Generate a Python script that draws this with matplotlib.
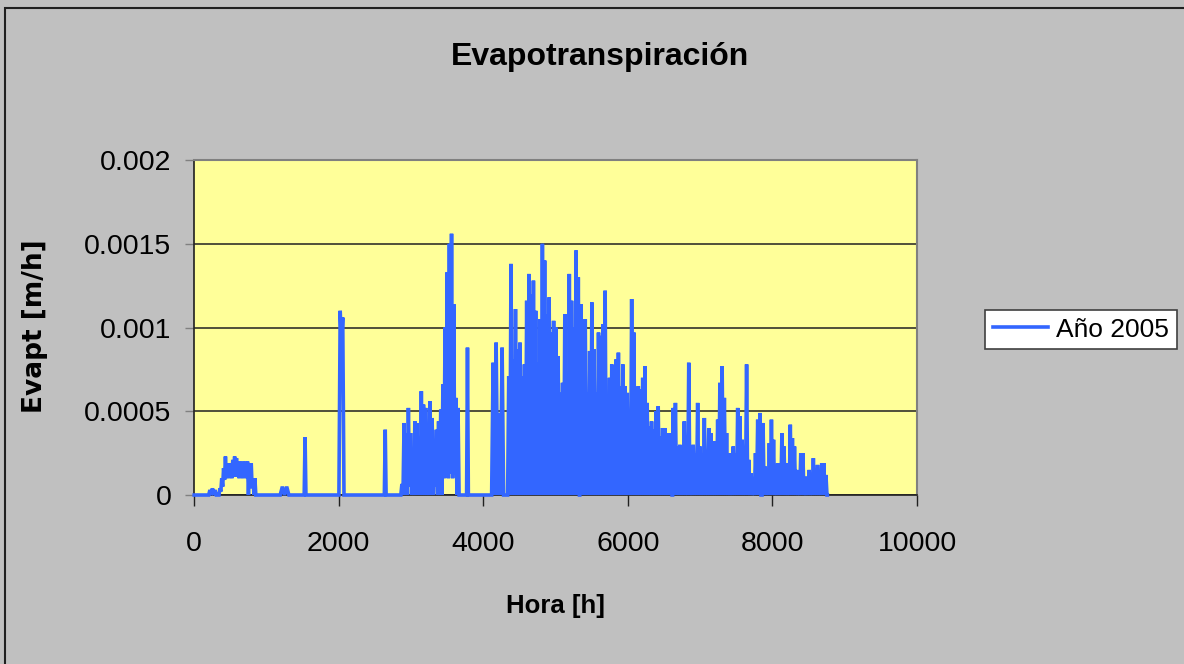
# coding: utf-8

"""
Evapotranspiración horaria - año 2005
"""

import numpy as np
import matplotlib
matplotlib.use("Agg")
import matplotlib.pyplot as plt
from matplotlib.patches import Rectangle

FUENTE = ["Liberation Sans", "DejaVu Sans"]

#==========
# Datos (máximos diarios, valles entre días)

# enero, pequeño bulto
ini_horas = (218, 288)
ini_picos = [0.00003, 0.00004, 0.00003]

# enero, bulto principal
ene_horas = (356, 840)
ene_picos = [0.00004, 0.0001, 0.00016, 0.00023, 0.00015, 0.00019, 0.00015, 0.00021, 0.00023, 0.00022,
             0.00016, 0.0002, 0.00016, 0.0002, 0.00019, 0.0002, 0.00018, 0.00019, 0.0001, 0.0001]
ene_valles = [0.00002, 0.00005, 0.00009, 0.00011, 0.0001, 0.00011, 0.0001, 0.00011, 0.00012, 0.00011,
              0.0001, 0.00011, 0.0001, 0.00011, 0.0001, 0.0, 0.00006, 0.00004, 0.0]

feb_horas = (1220, 1280)
feb_picos = [0.00005, 0.00005]

# picos aislados (hora, valor)
aislados_h = [1534, 2643, 3781]
aislados_v = [0.000346, 0.00039, 0.00088]

mar_horas = (2020, 2055)
mar_picos = [0.0011, 0.00106]
mar_valles = [0.0009]

# primavera
abr_horas = (2874, 3650)
abr_picos = [0.000066, 0.00043, 0.00037, 0.00052, 0.00037, 0.00025, 0.00044, 0.00043, 0.00029, 0.00062,
             0.00054, 0.00052, 0.0003, 0.00056, 0.00046, 0.0003, 0.00039, 0.00044, 0.00051, 0.00066,
             0.001, 0.00133, 0.0015, 0.00156, 0.00114, 0.00058, 0.00052]
abr_valles = [0, 0, 0, 0.00005, 0, 0, 0, 0.00003, 0, 0, 0, 0, 0, 0, 0, 0.00005, 0, 0, 0,
              0.0001, 0.00012, 0.0001, 0.00013, 0.0001, 0.00012, 0]

jun_horas = (4136, 4260)
jun_picos = [0.00079, 0.00091, 0.00049, 0.00088]

# verano
jul_horas = (4352, 5314)
jul_picos = [0.00071, 0.00138, 0.00081, 0.00111, 0.00087, 0.00091, 0.00071, 0.00078, 0.00116, 0.00132,
             0.0012, 0.00128, 0.0011, 0.00079, 0.00105, 0.0015, 0.0014, 0.00108, 0.00118, 0.00097,
             0.00104, 0.001, 0.00083, 0.00061, 0.00067, 0.00108, 0.00071, 0.00132, 0.00116, 0.001,
             0.00146, 0.0013]

ago_horas = (5349, 6603)
ago_picos = [0.00114, 0.00091, 0.00105, 0.00061, 0.00086, 0.00115, 0.00087, 0.00061, 0.00097, 0.00095,
             0.00102, 0.00122, 0.00045, 0.0007, 0.00078, 0.00057, 0.00081, 0.00085, 0.00065, 0.00078,
             0.00065, 0.00061, 0.00049, 0.00117, 0.00097, 0.00061, 0.00065, 0.00063, 0.0007, 0.00077,
             0.00055, 0.00041, 0.00044, 0.00039, 0.0005, 0.00053, 0.00035, 0.0004, 0.0004, 0.00029,
             0.00037, 0.00029]

oct_horas = (6627, 7827)
oct_picos = [0.00052, 0.00055, 0.00029, 0.0003, 0.00029, 0.00044, 0.00017, 0.00079, 0.00013, 0.0003,
             0.00025, 0.00055, 0.00029, 0.00025, 0.00046, 0.00025, 0.0004, 0.00037, 0.00032, 0.00032,
             0.00045, 0.00067, 0.00077, 0.00058, 0.00037, 0.00025, 0.00013, 0.00029, 0.00025, 0.00052,
             0.00047, 0.00033, 0.00025, 0.00078, 0.00021, 0.00013, 0.00005, 0.00025, 0.00045, 0.00049]

dic_horas = (7870, 8740)
dic_picos = [0.00043, 0.00017, 0.00013, 0.00031, 0.00045, 0.00033, 0.00009, 0.00019, 0.00019, 0.00037,
             0.00029, 0.00019, 0.00015, 0.00042, 0.00034, 0.00029, 0.00015, 0.00009, 0.00025, 0.00025,
             0.00007, 0.00011, 0.00015, 0.00009, 0.00022, 0.00016, 0.00018, 0.00013, 0.00019, 0.00019,
             0.00012]

hora_fin = 8760

x_ticks = [0, 2000, 4000, 6000, 8000, 10000]
x_tick_labels = ["0", "2000", "4000", "6000", "8000", "10000"]
y_ticks = [0, 0.0005, 0.001, 0.0015, 0.002]
y_tick_labels = ["0", "0.0005", "0.001", "0.0015", "0.002"]


def ciclo(horas, picos, valles=None, ancho=12):
	"""Une los picos diarios con valles nocturnos (cero si no se dan)"""
	h0, h1 = horas
	n = len(picos)
	if valles is None:
		valles = [0.0] * (n - 1)
	hp = np.linspace(h0, h1, n)
	paso = (h1 - h0) / (n - 1) if n > 1 else 2 * ancho
	xs, ys = [h0 - paso / 2], [0.0]
	for i in range(n):
		xs.append(hp[i]); ys.append(picos[i])
		if i < n - 1:
			xs.append((hp[i] + hp[i + 1]) / 2); ys.append(valles[i])
	xs.append(h1 + paso / 2); ys.append(0.0)
	return xs, ys


def main():
	plt.rcParams["font.family"] = FUENTE

	fig = plt.figure(figsize=(11.84, 6.64), dpi=100, facecolor="#c0c0c0")
	ax = fig.add_axes([0.164, 0.2545, 0.6105, 0.5045])
	ax.set_facecolor("#ffff99")

	# serie completa
	segs = [ciclo(ini_horas, ini_picos), ciclo(ene_horas, ene_picos, ene_valles),
	        ciclo(feb_horas, feb_picos)]
	segs.append(ciclo((aislados_h[0], aislados_h[0]), [aislados_v[0]]))
	segs.append(ciclo(mar_horas, mar_picos, mar_valles))
	segs.append(ciclo((aislados_h[1], aislados_h[1]), [aislados_v[1]]))
	segs.append(ciclo(abr_horas, abr_picos, abr_valles))
	segs.append(ciclo((aislados_h[2], aislados_h[2]), [aislados_v[2]]))
	for h, p in [(jun_horas, jun_picos), (jul_horas, jul_picos), (ago_horas, ago_picos),
	             (oct_horas, oct_picos), (dic_horas, dic_picos)]:
		segs.append(ciclo(h, p))

	xs, ys = [0], [0.0]
	for sx, sy in segs:
		xs += list(sx); ys += list(sy)
	xs.append(hora_fin); ys.append(0.0)

	linea, = ax.plot(xs, ys, color="#3366ff", lw=2.6, solid_joinstyle="miter",
	                 clip_on=False, zorder=3, label="Año 2005")

	ax.set_xlim(0, 10000)
	ax.set_ylim(0, 0.002)
	ax.set_xticks(x_ticks)
	ax.set_xticklabels(x_tick_labels)
	ax.set_yticks(y_ticks)
	ax.set_yticklabels(y_tick_labels)
	ax.tick_params(axis="x", direction="out", length=8, width=1, color="#202020",
	               pad=18, labelsize=20.5)
	ax.tick_params(axis="y", direction="out", length=6.5, width=1, color="#808080",
	               pad=10, labelsize=20.5)

	ax.yaxis.grid(True, color="#202020", lw=1.1)
	ax.set_axisbelow(True)
	for s in ["top", "right"]:
		ax.spines[s].set_color("#808080")
		ax.spines[s].set_linewidth(1.5)
	for s in ["left", "bottom"]:
		ax.spines[s].set_color("#202020")
		ax.spines[s].set_linewidth(1.2)

	# Textos
	fig.text(600 / 1184, 1 - 57 / 664, "Evapotranspiración", ha="center", va="center",
	         fontsize=23, fontweight="bold")
	fig.text(556 / 1184, 1 - 606 / 664, "Hora [h]", ha="center", va="center",
	         fontsize=18.5, fontweight="bold")
	fig.text(35 / 1184, 1 - 326 / 664, "Evapt [m/h]", ha="center", va="center",
	         rotation=90, fontsize=19, fontweight="bold", family=["DejaVu Sans"])

	leg = fig.legend(handles=[linea], loc="center", bbox_to_anchor=(1081 / 1184, 1 - 329.5 / 664),
	                 fontsize=19, frameon=True, fancybox=False, framealpha=1,
	                 handlelength=2.1, handletextpad=0.3, borderpad=0.3, borderaxespad=0)
	leg.get_frame().set_edgecolor("#404040")
	leg.get_frame().set_linewidth(1.2)

	# Marco exterior
	fig.add_artist(Rectangle((5 / 1184, -0.1), 1.2, 1.1 - 8 / 664, transform=fig.transFigure,
	                         fill=False, edgecolor="#202020", lw=1.5))

	fig.savefig("out.png", dpi=100, facecolor=fig.get_facecolor())

if __name__ == "__main__":
	main()
